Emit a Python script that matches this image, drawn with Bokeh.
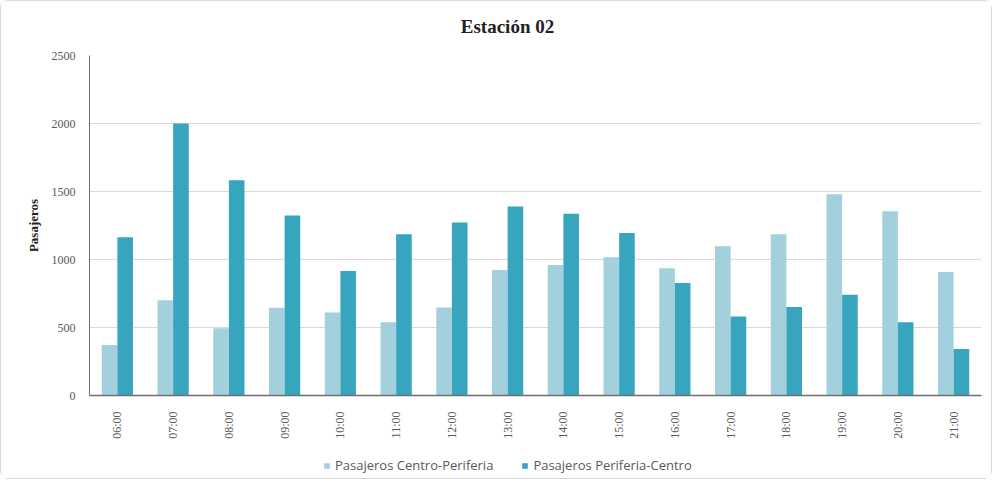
from bokeh.plotting import figure
from bokeh.models import ColumnDataSource, FactorRange, Range1d, Legend, LegendItem, Label
from bokeh.layouts import column
from bokeh.transform import dodge
from bokeh.embed import file_html
from bokeh.resources import INLINE
import math

hours = ["06:00", "07:00", "08:00", "09:00", "10:00", "11:00", "12:00", "13:00",
         "14:00", "15:00", "16:00", "17:00", "18:00", "19:00", "20:00", "21:00"]
centro_periferia = [371, 700, 494, 645, 610, 538, 647, 923, 960, 1017, 935, 1097, 1185, 1480, 1355, 908]
periferia_centro = [1163, 2000, 1582, 1323, 916, 1185, 1272, 1390, 1337, 1195, 828, 581, 650, 741, 538, 342]
series_names = ["Pasajeros Centro-Periferia", "Pasajeros Periferia-Centro"]
title_text = "Estación 02"
colors = ["#a2d0dc", "#38a5bf"]

src = ColumnDataSource(dict(h=hours, cp=centro_periferia, pc=periferia_centro))

# title strip
t = figure(width=990, height=44, x_range=Range1d(0, 1), y_range=Range1d(0, 1),
           output_backend="svg", toolbar_location=None,
           min_border_left=0, min_border_right=0, min_border_top=0, min_border_bottom=0)
t.axis.visible = False
t.grid.grid_line_color = None
t.outline_line_color = None
t.add_layout(Label(x=0.4686, y=0.43, text=title_text, text_align="center", text_baseline="middle",
                   text_font="Liberation Serif", text_font_size="19px", text_font_style="bold",
                   text_color="#222222"))

p = figure(width=990, height=396, x_range=FactorRange(*hours), y_range=Range1d(0, 2500),
           output_backend="svg", toolbar_location=None,
           min_border_left=88, min_border_right=10, min_border_top=10, min_border_bottom=42)
p.x_range.range_padding = 0

r1 = p.vbar(x=dodge("h", -0.14, range=p.x_range), top="cp", width=0.28, source=src,
            fill_color=colors[0], line_color=None)
r2 = p.vbar(x=dodge("h", 0.14, range=p.x_range), top="pc", width=0.28, source=src,
            fill_color=colors[1], line_color=None)

p.xgrid.grid_line_color = None
p.ygrid.grid_line_color = "#d9d9d9"
p.ygrid.grid_line_width = 1
p.outline_line_color = None

p.yaxis.ticker = [0, 500, 1000, 1500, 2000, 2500]
p.yaxis.axis_label = "Pasajeros"
p.yaxis.axis_label_text_font = "Liberation Serif"
p.yaxis.axis_label_text_font_style = "bold"
p.yaxis.axis_label_text_font_size = "13px"
p.yaxis.axis_label_text_color = "#222222"
p.yaxis.axis_label_standoff = 8
p.yaxis.major_label_text_font = "Liberation Serif"
p.yaxis.major_label_text_font_size = "12px"
p.yaxis.major_label_text_color = "#595959"
p.yaxis.major_label_standoff = 8
p.yaxis.major_tick_line_color = None
p.yaxis.minor_tick_line_color = None
p.yaxis.axis_line_color = "#6f6f6f"

p.xaxis.major_label_orientation = math.pi / 2
p.xaxis.major_label_text_font = "Liberation Serif"
p.xaxis.major_label_text_font_size = "12px"
p.xaxis.major_label_text_color = "#595959"
p.xaxis.major_label_standoff = 10
p.xaxis.major_tick_line_color = None
p.xaxis.axis_line_color = "#6f6f6f"
p.xaxis.axis_line_width = 1.5

# legend strip below the chart (proxy renderers sit outside the visible range)
lg = figure(width=990, height=37, x_range=Range1d(0, 1), y_range=Range1d(0, 1),
            output_backend="svg", toolbar_location=None,
            min_border_left=0, min_border_right=0, min_border_top=0, min_border_bottom=0)
lg.axis.visible = False
lg.grid.grid_line_color = None
lg.outline_line_color = None
proxy = ColumnDataSource(dict(x=[-5], top=[-5]))
d1 = lg.vbar(x="x", top="top", width=0.1, source=proxy, fill_color=colors[0], line_color=None)
d2 = lg.vbar(x="x", top="top", width=0.1, source=proxy, fill_color=colors[1], line_color=None)

legend = Legend(items=[LegendItem(label=series_names[0], renderers=[d1]),
                       LegendItem(label=series_names[1], renderers=[d2])],
                orientation="horizontal", location=(234, 4),
                label_text_font="Open Sans", label_text_font_size="13px",
                label_text_color="#595959", glyph_width=7, glyph_height=7,
                spacing=28, border_line_color=None, background_fill_alpha=0,
                padding=2, margin=0, label_standoff=5)
lg.add_layout(legend, "center")

layout = column(t, p, lg, spacing=0)
layout.styles = {"border": "1px solid #d9d9d9", "border-radius": "8px"}

open("out.html", "w").write(file_html(layout, INLINE))
